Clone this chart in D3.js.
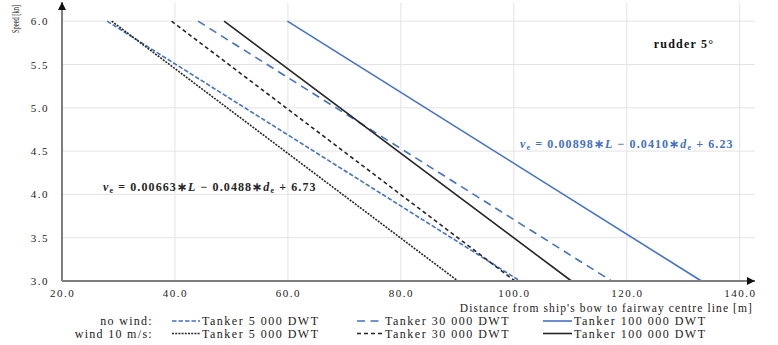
<!DOCTYPE html>
<html>
<head>
<meta charset="utf-8">
<script src="https://cdn.jsdelivr.net/npm/d3@7"></script>
<style>
  body { margin: 0; background: #fff; }
  text { font-family: 'Liberation Serif', 'Times New Roman', serif; }
</style>
</head>
<body>
<div id="chart"></div>
<script>
// values
const tankers = ['Tanker 5 000 DWT', 'Tanker 30 000 DWT', 'Tanker 100 000 DWT'];
const speedEnds = [6.0, 3.0];
const noWindAt6 = [28.0, 44.1, 59.9];
const noWindAt3 = [101.1, 117.3, 133.2];
const windAt6 = [28.8, 39.4, 48.7];
const windAt3 = [90.1, 100.2, 110.2];
const xTicks = [20, 40, 60, 80, 100, 120, 140];
const yTicks = [3.0, 3.5, 4.0, 4.5, 5.0, 5.5, 6.0];
const groups = ['no wind:', 'wind 10 m/s:'];

const width = 778, height = 345;
const blue = '#4472c4', dark = '#262626';

const svg = d3.select('#chart').append('svg')
  .attr('width', width)
  .attr('height', height);
svg.append('rect').attr('width', width).attr('height', height).attr('fill', '#fff');

const x = d3.scaleLinear().domain([20, 142.7]).range([62, 755]);
const y = d3.scaleLinear().domain([3, 6.21]).range([281, 3]);

// grids
svg.append('g')
  .selectAll('line')
  .data(xTicks.slice(1))
  .join('line')
    .attr('x1', (d) => x(d))
    .attr('x2', (d) => x(d))
    .attr('y1', y(3))
    .attr('y2', y(6.21))
    .attr('stroke', '#e3e3e3')
    .attr('stroke-width', 1);
svg.append('g')
  .selectAll('line')
  .data(yTicks.slice(1))
  .join('line')
    .attr('y1', (d) => y(d))
    .attr('y2', (d) => y(d))
    .attr('x1', x(20))
    .attr('x2', x(142.7))
    .attr('stroke', '#e3e3e3')
    .attr('stroke-width', 1);

// series
const dashes = {
  noWind: ['4.5,2', '8,5.5', null],
  wind: ['2,1.2', '4,3', null],
};
const series = [];
tankers.forEach((name, i) => {
  series.push({ at6: noWindAt6[i], at3: noWindAt3[i], color: blue, dash: dashes.noWind[i] });
  series.push({ at6: windAt6[i], at3: windAt3[i], color: dark, dash: dashes.wind[i] });
});
const line = d3.line().x((d) => x(d[0])).y((d) => y(d[1]));
svg.append('g')
  .selectAll('path')
  .data(series)
  .join('path')
    .attr('d', (s) => line([[s.at6, speedEnds[0]], [s.at3, speedEnds[1]]]))
    .attr('fill', 'none')
    .attr('stroke', (s) => s.color)
    .attr('stroke-width', 1.6)
    .attr('stroke-dasharray', (s) => s.dash);

// axes (ticks only, lines drawn separately with arrows)
svg.append('g')
  .attr('transform', `translate(0,${y(3)})`)
  .call(d3.axisBottom(x).tickValues(xTicks).tickFormat(d3.format('.1f')).tickSize(0).tickPadding(8))
  .call((g) => g.select('.domain').remove())
  .selectAll('text')
    .style('font-family', 'Liberation Serif')
    .style('font-size', '11px')
    .style('letter-spacing', '1.5px')
    .attr('fill', '#222');
svg.append('g')
  .attr('transform', `translate(${x(20)},0)`)
  .call(d3.axisLeft(y).tickValues(yTicks).tickFormat(d3.format('.1f')).tickSize(0).tickPadding(13))
  .call((g) => g.select('.domain').remove())
  .selectAll('text')
    .style('font-family', 'Liberation Serif')
    .style('font-size', '11px')
    .style('letter-spacing', '1.5px')
    .attr('fill', '#222');

const defs = svg.append('defs');
defs.append('marker')
  .attr('id', 'arrow')
  .attr('viewBox', '0 0 10 10')
  .attr('refX', 10).attr('refY', 5)
  .attr('markerWidth', 5).attr('markerHeight', 4)
  .attr('markerUnits', 'strokeWidth')
  .attr('orient', 'auto')
  .append('path')
    .attr('d', 'M0,0 L10,5 L0,10 Z')
    .attr('fill', '#111');

svg.append('line')
  .attr('x1', x(20)).attr('x2', 755)
  .attr('y1', y(3)).attr('y2', y(3))
  .attr('stroke', '#7f7f7f').attr('stroke-width', 2)
  .attr('marker-end', 'url(#arrow)');
svg.append('line')
  .attr('x1', x(20)).attr('x2', x(20))
  .attr('y1', y(3)).attr('y2', 2)
  .attr('stroke', '#7f7f7f').attr('stroke-width', 2)
  .attr('marker-end', 'url(#arrow)');

// axis titles
svg.append('text')
  .attr('x', 753).attr('y', 312)
  .attr('text-anchor', 'end')
  .attr('font-size', '11.5px')
  .attr('letter-spacing', '1.1px')
  .attr('fill', '#222')
  .text("Distance from ship's bow to fairway  centre line [m]");
svg.append('text')
  .attr('transform', 'translate(19,19) rotate(-90)')
  .attr('text-anchor', 'middle')
  .attr('font-size', '9.5px')
  .attr('textLength', 28)
  .attr('lengthAdjust', 'spacingAndGlyphs')
  .attr('fill', '#222')
  .text('Speed [kn]');

// annotations
svg.append('text')
  .attr('x', 684).attr('y', 48)
  .attr('text-anchor', 'middle')
  .attr('font-size', '12px')
  .attr('font-weight', 'bold')
  .attr('letter-spacing', '1.2px')
  .attr('fill', '#111')
  .text('rudder 5°');

function equation(px, py, color, a, b, c) {
  const t = svg.append('text')
    .attr('x', px).attr('y', py)
    .attr('font-size', '12px')
    .attr('font-weight', 'bold')
    .attr('letter-spacing', '1.1px')
    .attr('fill', color);
  t.append('tspan').attr('font-style', 'italic').text('v');
  t.append('tspan').attr('font-size', '8px').attr('dy', 2).text('e');
  t.append('tspan').attr('dy', -2).text(` = ${a}∗`);
  t.append('tspan').attr('font-style', 'italic').text('L');
  t.append('tspan').text(` − ${b}∗`);
  t.append('tspan').attr('font-style', 'italic').text('d');
  t.append('tspan').attr('font-size', '8px').attr('dy', 2).text('e');
  t.append('tspan').attr('dy', -2).text(` + ${c}`);
}
equation(520, 148, blue, '0.00898', '0.0410', '6.23');
equation(103, 191, dark, '0.00663', '0.0488', '6.73');

// legend
const legendX = [172, 357, 543];
const sampleW = [28, 26, 29];
const rowsY = [325, 337.5];
groups.forEach((label, r) => {
  svg.append('text')
    .attr('x', 153).attr('y', rowsY[r])
    .attr('text-anchor', 'end')
    .attr('font-size', '12px')
    .attr('letter-spacing', '1.3px')
    .attr('fill', '#222')
    .text(label);
  tankers.forEach((name, i) => {
    const s = series[i * 2 + r];
    svg.append('line')
      .attr('x1', legendX[i]).attr('x2', legendX[i] + sampleW[i])
      .attr('y1', rowsY[r] - 4).attr('y2', rowsY[r] - 4)
      .attr('stroke', s.color)
      .attr('stroke-width', 1.6)
      .attr('stroke-dasharray', s.dash);
    svg.append('text')
      .attr('x', legendX[i] + sampleW[i] + 2).attr('y', rowsY[r])
      .attr('font-size', '12px')
      .attr('letter-spacing', '1.5px')
      .attr('fill', '#222')
      .text(name);
  });
});
</script>
</body>
</html>
